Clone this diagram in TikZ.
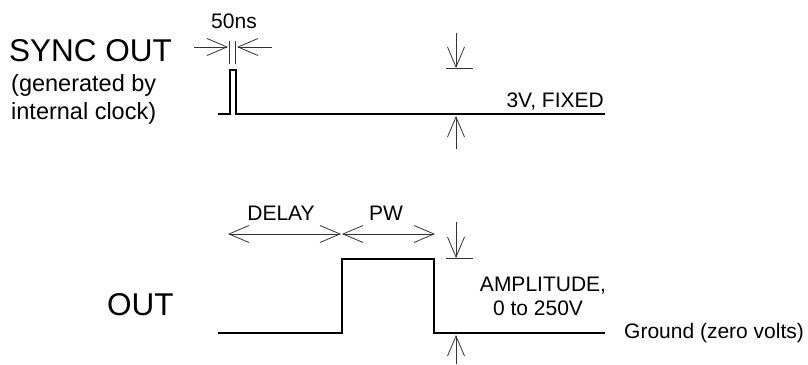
\documentclass[tikz,border=0pt]{standalone}
\usepackage{fontspec}
\setmainfont{Liberation Sans}
\usetikzlibrary{arrows.meta}
\begin{document}
\begin{tikzpicture}[x=1pt,y=-1pt,
  wave/.style={line width=2.6pt,line join=miter,line cap=butt},
  dim/.style={line width=0.8pt,draw=black!80},
  dimarrow/.style={dim,-{Straight Barb[length=20pt,width=17pt,line width=0.8pt]}},
  dimboth/.style={dim,{Straight Barb[length=20pt,width=17pt,line width=0.8pt]}-{Straight Barb[length=20pt,width=17pt,line width=0.8pt]}},
  big/.style={font=\fontsize{31.5}{34}\selectfont,inner sep=0pt},
  desc/.style={font=\fontsize{23.5}{28}\selectfont,inner sep=0pt},
  lab/.style={font=\fontsize{21}{24}\selectfont,inner sep=0pt}]
\useasboundingbox (0,0) rectangle (808,364);
% texts
\node[big,anchor=base west] (sync) at (9,61) {SYNC OUT};
\node[desc,anchor=base west] (gen1) at (11,91) {(generated by};
\node[desc,anchor=base west] (gen2) at (11,119) {internal clock)};
\node[big,anchor=base west] (out) at (107,315) {OUT};
\node[lab,anchor=base] (ns) at (234,28) {50ns};
\node[lab,anchor=base east] (fixed) at (604,107) {3V, FIXED};
\node[lab,anchor=base] (delay) at (281,220) {DELAY};
\node[lab,anchor=base] (pw) at (386,220) {PW};
\node[lab,anchor=base] (amp1) at (543,291) {AMPLITUDE,};
\node[lab,anchor=base] (amp2) at (538,315) {0 to 250V};
\node[lab,anchor=base west] (gnd) at (624,338) {Ground (zero volts)};
% SYNC waveform
\coordinate (s0) at (218,114);
\coordinate (s1) at (230,114);
\coordinate (s2) at (230,70);
\coordinate (s3) at (236,70);
\coordinate (s4) at (236,114);
\coordinate (s5) at (605,114);
\draw[wave] (s0) -- (s1) -- (s2) -- (s3) -- (s4) -- (s5);
% OUT waveform
\coordinate (o0) at (218,333);
\coordinate (o1) at (342,333);
\coordinate (o2) at (342,259);
\coordinate (o3) at (434,259);
\coordinate (o4) at (434,333);
\coordinate (o5) at (605,333);
\draw[wave] (o0) -- (o1) -- (o2) -- (o3) -- (o4) -- (o5);
% 50ns dimension
\coordinate (t1a) at (229.5,41);
\coordinate (t1b) at (229.5,64);
\coordinate (t2a) at (235.5,41);
\coordinate (t2b) at (235.5,64);
\draw[dim] (t1a) -- (t1b);
\draw[dim] (t2a) -- (t2b);
\coordinate (nl) at (194,47);
\coordinate (nlt) at (228,47);
\coordinate (nr) at (272,47);
\coordinate (nrt) at (237,47);
\draw[dimarrow] (nl) -- (nlt);
\draw[dimarrow] (nr) -- (nrt);
% 3V dimension
\coordinate (da) at (456,33);
\coordinate (db) at (456,68);
\coordinate (bl1) at (446,68);
\coordinate (br1) at (473,68);
\draw[dimarrow] (da) -- (db);
\draw[dim] (bl1) -- (br1);
\coordinate (ua) at (456,149);
\coordinate (ub) at (456,116);
\draw[dimarrow] (ua) -- (ub);
% DELAY / PW
\coordinate (d0) at (228,234);
\coordinate (d1) at (341,234);
\coordinate (p0) at (342,234);
\coordinate (p1) at (435,234);
\draw[dimboth] (d0) -- (d1);
\draw[dimboth] (p0) -- (p1);
% amplitude dimension
\coordinate (ada) at (456,222);
\coordinate (adb) at (456,258);
\coordinate (bl2) at (446,258);
\coordinate (br2) at (473,258);
\draw[dimarrow] (ada) -- (adb);
\draw[dim] (bl2) -- (br2);
\coordinate (aua) at (456,364);
\coordinate (aub) at (456,335);
\draw[dimarrow] (aua) -- (aub);
\end{tikzpicture}
\end{document}
